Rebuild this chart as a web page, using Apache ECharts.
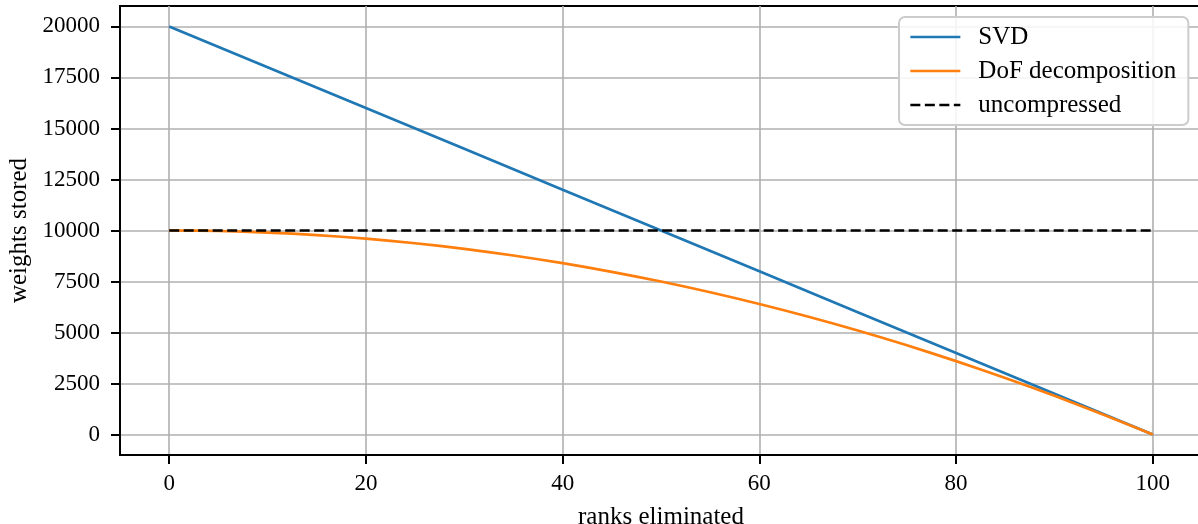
<!DOCTYPE html>
<html>
<head>
<meta charset="utf-8">
<script src="https://cdn.jsdelivr.net/npm/echarts@6/dist/echarts.min.js"></script>
<style>
  html, body { margin: 0; padding: 0; background: #fff; }
  #chart { width: 1198px; height: 524px; }
</style>
</head>
<body>
<div id="chart"></div>
<script>
var xTicks = [0, 20, 40, 60, 80, 100];
var yTicks = [0, 2500, 5000, 7500, 10000, 12500, 15000, 17500, 20000];

var svdRanks = [0, 10, 20, 30, 40, 50, 60, 70, 80, 90, 100];
var svdValues = [20000, 18000, 16000, 14000, 12000, 10000, 8000, 6000, 4000, 2000, 0];

var dofRanks = [0, 5, 10, 15, 20, 25, 30, 35, 40, 45, 50, 55, 60, 65, 70, 75, 80, 85, 90, 95, 100];
var dofValues = [10000, 9975, 9900, 9775, 9600, 9375, 9100, 8775, 8400, 7975, 7500,
                 6975, 6400, 5775, 5100, 4375, 3600, 2775, 1900, 975, 0];

var rawRanks = [0, 100];
var rawValues = [10000, 10000];

function pairs(xs, ys) {
  return xs.map(function (x, i) { return [x, ys[i]]; });
}

var font = '"Liberation Serif", "DejaVu Serif", serif';
var chart = echarts.init(document.getElementById('chart'), null, { renderer: 'canvas' });
chart.setOption({
  animation: false,
  backgroundColor: '#fff',
  grid: {
    left: 120, right: -4, top: 6, bottom: 69,
    show: true, borderColor: '#000', borderWidth: 1.8,
    outerBoundsMode: 'none'
  },
  legend: {
    orient: 'vertical',
    left: 899, top: 17,
    padding: [7, 10, 7, 10],
    itemWidth: 50, itemHeight: 14, itemGap: 8,
    backgroundColor: 'rgba(255,255,255,0.85)',
    borderColor: '#cccccc', borderWidth: 2, borderRadius: 6,
    itemStyle: { opacity: 0 },
    lineStyle: { width: 2.7 },
    textStyle: { fontFamily: font, fontSize: 25, color: '#000', lineHeight: 26, padding: [0, 0, 0, 13], width: 200 },
    data: ['SVD', 'DoF decomposition', 'uncompressed']
  },
  xAxis: {
    type: 'value', min: -5, max: 105,
    name: 'ranks eliminated', nameLocation: 'middle', nameGap: 50,
    nameTextStyle: { fontFamily: font, fontSize: 25, color: '#000' },
    axisLine: { show: true, onZero: false, lineStyle: { color: '#000', width: 1.8 } },
    axisTick: { show: true, length: 9, lineStyle: { color: '#000', width: 2 }, customValues: xTicks },
    axisLabel: { fontFamily: font, fontSize: 23, color: '#000', margin: 17, customValues: xTicks,
      formatter: function (v) { return String(v); } },
    splitLine: { show: true, lineStyle: { color: '#b0b0b0', width: 1.6 } }
  },
  yAxis: {
    type: 'value', min: -1000, max: 21000,
    name: 'weights stored', nameLocation: 'middle', nameGap: 87,
    nameTextStyle: { fontFamily: font, fontSize: 25, color: '#000' },
    axisLine: { show: true, onZero: false, lineStyle: { color: '#000', width: 1.8 } },
    axisTick: { show: true, length: 9, lineStyle: { color: '#000', width: 2 }, customValues: yTicks },
    axisLabel: { fontFamily: font, fontSize: 23, color: '#000', margin: 20, customValues: yTicks,
      formatter: function (v) { return String(v); } },
    splitLine: { show: true, lineStyle: { color: '#b0b0b0', width: 1.6 } }
  },
  series: [
    {
      name: 'SVD', type: 'line', symbol: 'none',
      data: pairs(svdRanks, svdValues),
      lineStyle: { color: '#1f77b4', width: 2.7 },
      itemStyle: { color: '#1f77b4' }
    },
    {
      name: 'DoF decomposition', type: 'line', symbol: 'none', smooth: 0.3,
      data: pairs(dofRanks, dofValues),
      lineStyle: { color: '#ff7f0e', width: 2.7 },
      itemStyle: { color: '#ff7f0e' }
    },
    {
      name: 'uncompressed', type: 'line', symbol: 'none',
      data: pairs(rawRanks, rawValues),
      lineStyle: { color: '#000', width: 2.4, type: [10, 4.5] },
      itemStyle: { color: '#000' }
    }
  ]
});
</script>
</body>
</html>
